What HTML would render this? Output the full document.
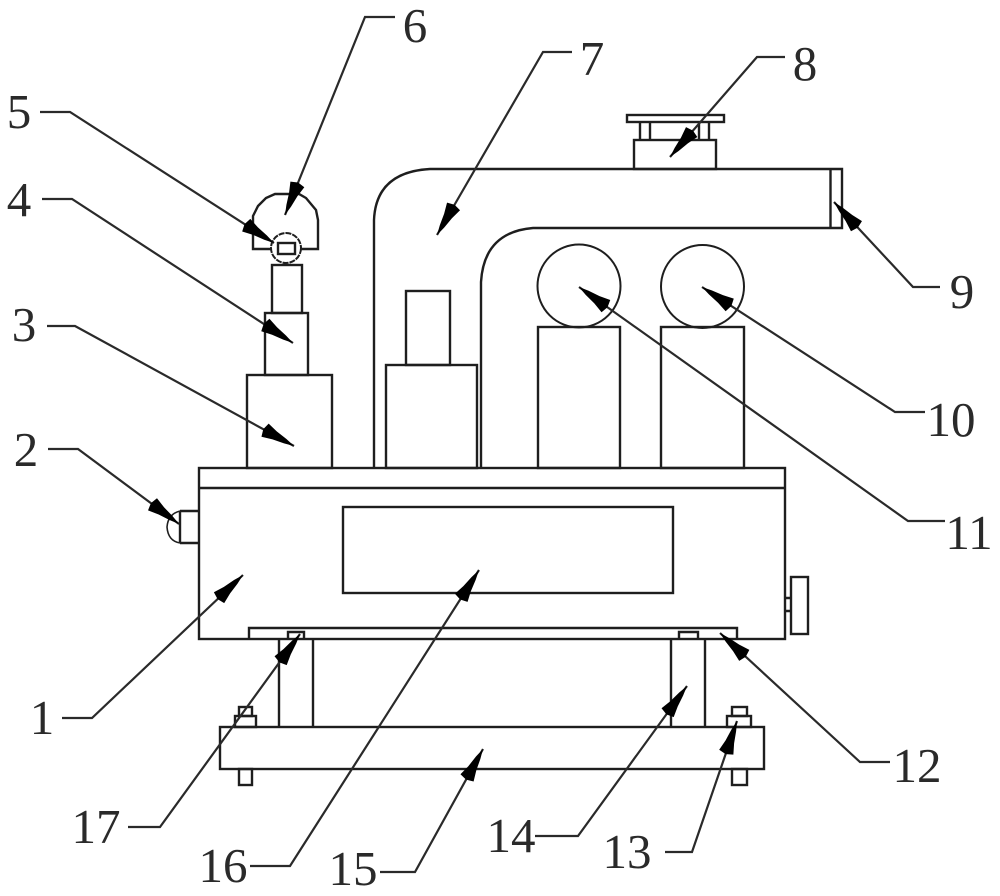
<!DOCTYPE html>
<html>
<head>
<meta charset="utf-8">
<style>
html,body{margin:0;padding:0;background:#fff;width:1000px;height:896px;overflow:hidden}
svg{display:block}
text{font-family:"Liberation Serif",serif;font-size:49px;fill:#2a2a2a;text-anchor:middle}
</style>
</head>
<body>
<svg width="1000" height="896" viewBox="0 0 1000 896" xmlns="http://www.w3.org/2000/svg">
<defs>
<marker id="a" markerUnits="userSpaceOnUse" markerWidth="44" markerHeight="22" refX="40" refY="11" orient="auto">
<path d="M40,11 L30,8.500 L18,6.500 L7,3.500 L5,11 L7,18.500 L18,15.500 L30,13.500 Z" fill="#000"/>
</marker>
</defs>
<g fill="none" stroke="#1e1e1e" stroke-width="2.400">
<!-- pipe -->
<path d="M374,468 V220 Q376,172 430,169 H842 V228 H533 Q484,232 481,282 V468"/>
<path d="M830.500,169 V228"/>
<!-- top fixture 8 -->
<rect x="627" y="115" width="97" height="7"/>
<path d="M640,122 V140 M650,122 V140 M699,122 V140 M709,122 V140"/>
<rect x="634" y="140" width="82" height="29"/>
<!-- columns -->
<rect x="386" y="365" width="91" height="103"/>
<rect x="406" y="291" width="44" height="74"/>
<rect x="538" y="327" width="82" height="141"/>
<rect x="661" y="327" width="83" height="141"/>
<circle cx="579" cy="286" r="41.500" stroke-width="2"/>
<circle cx="702.500" cy="286.500" r="41.500" stroke-width="2"/>
<!-- left stack -->
<rect x="247" y="375" width="85" height="93"/>
<rect x="265" y="313" width="43" height="62"/>
<rect x="272" y="265" width="30" height="48"/>
<path d="M272,249 H253 V216 L258,206 L266,198 L275,194 H299 L306,198 L316,210 L318,220 V249 H301"/>
<circle cx="286" cy="248" r="15" fill="#fff" stroke-width="2" stroke-dasharray="6 1"/>
<rect x="278" y="243" width="17" height="11"/>
<!-- table -->
<rect x="199" y="468" width="586" height="171"/>
<path d="M199,488 H785"/>
<rect x="343" y="507" width="330" height="86"/>
<path d="M180,511 H199 M180,543 H199 M180,511 V543"/>
<path d="M180,511 Q168,514 167,527 Q168,541 180,543" stroke-width="1.600"/>
<path d="M785,598 H791 M785,611 H791"/>
<rect x="791" y="577" width="17" height="57"/>
<!-- plate -->
<path d="M249,639 V628 H737 V639"/>
<path d="M288,639 V632 H304 V639 M679,639 V632 H698 V639"/>
<!-- legs -->
<path d="M279,639 V727 M313,639 V727 M671,639 V727 M705,639 V727"/>
<rect x="220" y="727" width="544" height="42"/>
<!-- bolts -->
<rect x="235" y="716" width="21" height="11"/>
<rect x="239" y="707" width="13" height="9"/>
<rect x="239" y="769" width="13" height="16"/>
<rect x="727" y="716" width="24" height="11"/>
<rect x="732" y="707" width="15" height="9"/>
<rect x="732" y="769" width="15" height="16"/>
</g>
<!-- leaders -->
<g fill="none" stroke="#2a2a2a" stroke-width="2.200" marker-end="url(#a)">
<polyline points="62,718 92,718 243,575"/>
<polyline points="48,449 78,449 179,524"/>
<polyline points="47,326 75,326 294,446"/>
<polyline points="42,199 72,199 293,343"/>
<polyline points="40,112 70,112 274,243"/>
<polyline points="395,17 365,17 285,215"/>
<polyline points="572,52 543,52 437,235"/>
<polyline points="785,57 757,57 670,157"/>
<polyline points="940,287 913,287 834,202"/>
<polyline points="925,412 895,412 702,287"/>
<polyline points="945,521 908,521 579,287"/>
<polyline points="890,762 860,762 720,633"/>
<polyline points="665,852 692,852 737,721"/>
<polyline points="535,836 578,836 687,686"/>
<polyline points="380,872 415,872 483,749"/>
<polyline points="250,866 290,866 479,570"/>
<polyline points="128,827 160,827 300,634"/>
</g>
<!-- labels -->
<text x="42" y="734">1</text>
<text x="26" y="466">2</text>
<text x="24" y="341">3</text>
<text x="19" y="216">4</text>
<text x="19" y="128">5</text>
<text x="415" y="42">6</text>
<text x="592" y="75">7</text>
<text x="805" y="80">8</text>
<text x="962" y="308">9</text>
<text x="951" y="436">10</text>
<text x="969" y="549">11</text>
<text x="917" y="782">12</text>
<text x="627" y="868">13</text>
<text x="511" y="852">14</text>
<text x="353" y="885">15</text>
<text x="223" y="882">16</text>
<text x="96" y="843">17</text>
</svg>
</body>
</html>
